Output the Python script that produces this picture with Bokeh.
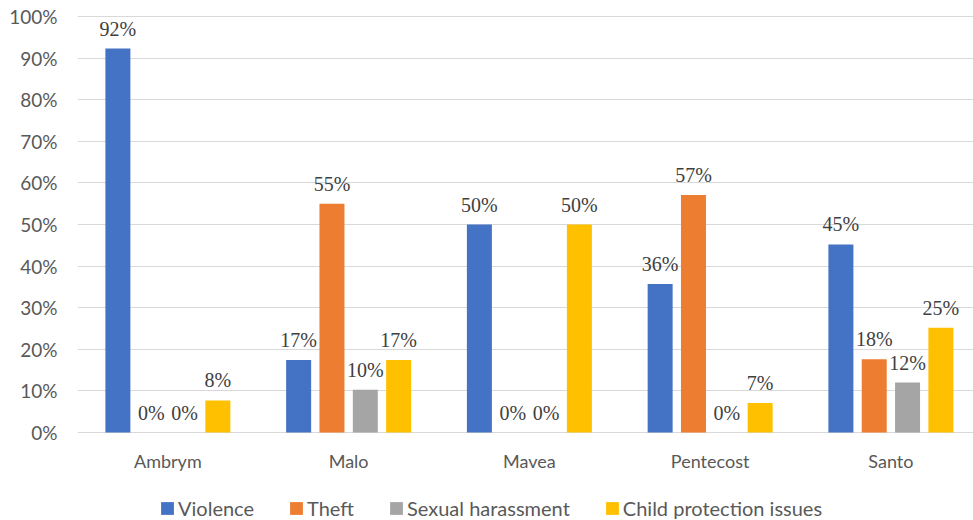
from bokeh.plotting import figure
from bokeh.layouts import column
from bokeh.models import (ColumnDataSource, Range1d, FixedTicker, LabelSet,
                          Legend, LegendItem, NumeralTickFormatter)
from bokeh.embed import file_html
from bokeh.resources import INLINE

islands = ["Ambrym", "Malo", "Mavea", "Pentecost", "Santo"]
series = ["Violence", "Theft", "Sexual harassment", "Child protection issues"]
violence = [92.3, 17.4, 50.0, 35.7, 45.2]
theft = [0.0, 55.0, 0.0, 57.1, 17.6]
sexual_harassment = [0.0, 10.3, 0.0, 0.0, 12.0]
child_protection = [7.7, 17.4, 50.0, 7.1, 25.2]
colors = ["#4472C4", "#ED7D31", "#A5A5A5", "#FFC000"]
y_ticks = [0, 10, 20, 30, 40, 50, 60, 70, 80, 90, 100]

FONT = "Lato"
values = [violence, theft, sexual_harassment, child_protection]

p = figure(width=973, height=480, output_backend="svg", toolbar_location=None,
           x_range=Range1d(-0.5, 4.457), y_range=Range1d(-0.24, 100.24),
           min_border_left=77, min_border_right=0, min_border_top=15,
           min_border_bottom=47)
p.outline_line_color = None
p.background_fill_color = "white"

step = 0.1844
bw = 0.1383
for k, (name, vals, col) in enumerate(zip(series, values, colors)):
    off = (k - 1.5) * step
    src = ColumnDataSource(dict(
        x=[i + off for i in range(len(islands))],
        top=vals,
        lab=[f"{round(v)}%" for v in vals],
    ))
    p.vbar(x="x", top="top", bottom=0, width=bw, source=src,
           fill_color=col, line_color=None)
    lbl = LabelSet(x="x", y="top", text="lab", source=src, y_offset=13,
                   text_align="center", text_baseline="alphabetic",
                   text_font=FONT, text_font_size="20px", text_color="#404040")
    p.add_layout(lbl)

# axes
p.xaxis.ticker = FixedTicker(ticks=list(range(len(islands))))
p.xaxis.major_label_overrides = {i: n for i, n in enumerate(islands)}
p.xaxis.axis_line_color = None
p.xaxis.major_tick_line_color = None
p.xaxis.minor_tick_line_color = None
p.xaxis.major_tick_out = 0
p.xaxis.major_label_standoff = 16
p.xaxis.major_label_text_font = FONT
p.xaxis.major_label_text_font_size = "18px"
p.xaxis.major_label_text_color = "#595959"

p.yaxis.ticker = FixedTicker(ticks=y_ticks)
p.yaxis.formatter = NumeralTickFormatter(format="0")
p.yaxis.major_label_overrides = {t: f"{t}%" for t in y_ticks}
p.yaxis.axis_line_color = None
p.yaxis.major_tick_line_color = None
p.yaxis.minor_tick_line_color = None
p.yaxis.major_tick_out = 0
p.yaxis.major_label_standoff = 20
p.yaxis.major_label_text_font = FONT
p.yaxis.major_label_text_font_size = "19px"
p.yaxis.major_label_text_color = "#595959"

p.xgrid.grid_line_color = None
p.ygrid.grid_line_color = "#D9D9D9"
p.ygrid.grid_line_width = 1
p.ygrid.ticker = FixedTicker(ticks=y_ticks)

# legend strip below the chart (dummy renderers lie outside the visible range)
lf = figure(width=973, height=40, output_backend="svg", toolbar_location=None,
            x_range=Range1d(0, 1), y_range=Range1d(0, 1),
            x_axis_location=None, y_axis_location=None,
            min_border_left=0, min_border_right=0, min_border_top=0,
            min_border_bottom=0)
lf.outline_line_color = None
lf.xgrid.grid_line_color = None
lf.ygrid.grid_line_color = None
items = []
for name, col in zip(series, colors):
    r = lf.quad(left=[-10], right=[-9], bottom=[-10], top=[-9],
                fill_color=col, line_color=None)
    items.append(LegendItem(label=name, renderers=[r]))
legend = Legend(items=items, orientation="horizontal", location=(82, 0),
                glyph_width=16, glyph_height=16, label_standoff=3, spacing=34,
                padding=0, margin=0, border_line_color=None,
                background_fill_alpha=0, label_text_font=FONT,
                label_text_font_size="20px", label_text_color="#595959")
lf.add_layout(legend, "center")

layout = column(p, lf, spacing=0)
open("out.html", "w").write(file_html(layout, INLINE))
